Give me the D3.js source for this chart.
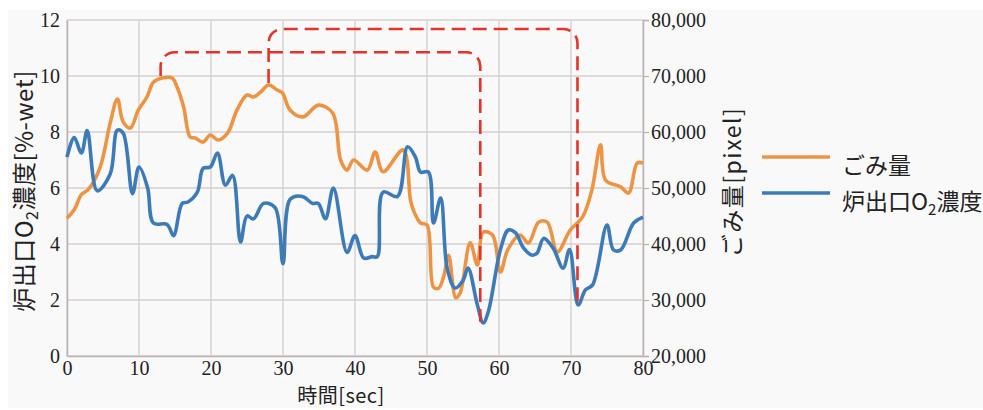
<!DOCTYPE html>
<html>
<head>
<meta charset="utf-8">
<script src="https://cdn.jsdelivr.net/npm/d3@7"></script>
<style>
  body { margin: 0; background: #fff; }
  svg { display: block; }
</style>
</head>
<body>
<div id="chart"></div>
<script>
const width = 983, height = 410;

// 炉出口O2濃度 [%-wet] (left axis)
const timeO2 = [0, 1.0, 2.0, 2.8, 4.2, 6.0, 7.0, 7.8, 9.1, 10.0, 11.2, 12.0, 13.9, 14.8, 16.0, 16.8, 18.1, 18.9, 19.9, 20.9,
  22.0, 23.0, 24.1, 25.0, 25.9, 27.3, 28.9, 30.0, 31.0, 32.7, 34.1, 34.9, 35.9, 37.0, 38.9, 40.0, 41.2, 42.4, 43.1, 43.9,
  45.9, 47.3, 48.4, 49.1, 50.2, 50.9, 51.9, 52.8, 53.9, 55.0, 55.7, 57.0, 57.8, 58.5, 60.2, 61.3, 62.3, 63.4, 64.6, 65.3,
  66.2, 67.5, 68.9, 69.8, 71.0, 72.0, 73.0, 75.0, 75.9, 76.9, 78.7, 80.0];
const o2 = [7.1, 7.8, 7.25, 8.05, 5.9, 6.5, 8.07, 7.96, 5.8, 6.75, 6.0, 4.75, 4.7, 4.3, 5.45, 5.5, 5.85, 6.7, 6.75, 7.25,
  6.1, 6.45, 4.07, 5.0, 4.9, 5.45, 5.3, 3.3, 5.6, 5.7, 5.45, 5.45, 4.9, 6.0, 3.7, 4.3, 3.5, 3.55, 3.55, 5.85,
  5.7, 7.47, 7.1, 6.57, 6.57, 4.75, 5.64, 3.14, 2.43, 2.7, 3.14, 1.82, 1.18, 1.57, 3.8, 4.5, 4.4, 3.86, 3.6, 3.68,
  4.2, 3.86, 3.14, 3.8, 1.82, 2.36, 2.54, 4.68, 3.79, 3.79, 4.75, 4.96];

// ごみ量 [pixel] (right axis)
const timeWaste = [0, 1.0, 2.0, 3.0, 4.6, 6.0, 7.0, 7.8, 8.8, 9.9, 11.1, 12.0, 13.2, 14.6, 15.3, 16.2, 17.1, 17.8, 18.9, 19.9,
  21.0, 22.3, 23.6, 25.0, 25.9, 26.9, 28.0, 29.2, 29.9, 31.0, 32.8, 34.9, 36.9, 38.0, 38.9, 39.8, 41.7, 42.8, 43.9, 46.7,
  47.7, 48.1, 49.1, 50.0, 50.9, 51.6, 52.3, 53.0, 54.0, 54.6, 56.0, 57.0, 57.8, 59.1, 60.2, 61.2, 62.9, 64.1, 65.5, 66.7,
  68.1, 69.9, 71.6, 72.9, 74.1, 74.8, 76.9, 78.0, 79.2, 80.0];
const waste = [44600, 46100, 48800, 49800, 53700, 61600, 65900, 61800, 60700, 63900, 66250, 68900, 69640, 69640, 68000, 64460, 59100, 58930, 58200, 59460,
  58570, 59800, 63900, 66600, 66250, 67140, 68400, 67500, 67000, 63900, 62700, 64800, 63400, 55000, 53200, 55000, 53200, 56400, 52900, 56800,
  47860, 46070, 43750, 43400, 32300, 32100, 34100, 38000, 30400, 31250, 40200, 36250, 42100, 41600, 35000, 38900, 41600, 40200, 43900, 43900,
  38600, 42500, 44800, 49640, 57700, 51400, 50200, 49100, 54460, 54460];

const xTicks = [0, 10, 20, 30, 40, 50, 60, 70, 80];
const leftTicks = [0, 2, 4, 6, 8, 10, 12];
const rightTicks = [20000, 30000, 40000, 50000, 60000, 70000, 80000];

// red dashed links: from ごみ量 peak (t0, y0) up to level, across, down to O2 dip (t1, y1) -- left-axis units
const linkStart = [[13.0, 10.0], [28.0, 9.75]];
const linkLevel = [10.85, 11.68];
const linkEnd = [[57.4, 1.22], [70.9, 1.82]];

const seriesNames = ["ごみ量", "炉出口O"];
const colors = { waste: "#ED9444", o2: "#3D7AB8", link: "#E5322A", grid: "#D6CECE", axis: "#BDB3B3" };
const serif = "'Liberation Serif', 'Times New Roman', Times, Tinos, 'Noto Serif', 'DejaVu Serif', serif";

const svg = d3.select("#chart").append("svg")
  .attr("width", width)
  .attr("height", height);

svg.append("rect")
  .attr("x", 8).attr("y", 10)
  .attr("width", width - 8).attr("height", 398)
  .attr("fill", "#F9F9F9");

const x = d3.scaleLinear().domain([0, 80]).range([67, 643]);
const yL = d3.scaleLinear().domain([0, 12]).range([356, 20]);
const yR = d3.scaleLinear().domain([20000, 80000]).range([356, 20]);

// grid
svg.append("g").selectAll("line").data(leftTicks).join("line")
  .attr("x1", x(0)).attr("x2", x(80))
  .attr("y1", d => yL(d)).attr("y2", d => yL(d))
  .attr("stroke", colors.grid).attr("stroke-width", 1.3);
svg.append("g").selectAll("line").data(xTicks).join("line")
  .attr("x1", d => x(d)).attr("x2", d => x(d))
  .attr("y1", yL(0)).attr("y2", yL(12))
  .attr("stroke", colors.grid).attr("stroke-width", 1.3);

// axes
const axisStyle = g => {
  g.attr("font-family", serif).attr("font-size", 20);
  g.select(".domain").attr("stroke", colors.axis).attr("stroke-width", 1.5);
  g.selectAll(".tick line").attr("stroke", colors.axis).attr("stroke-width", 1.3);
  g.selectAll(".tick text").attr("fill", "#222");
};

svg.append("g")
  .attr("transform", `translate(${x(0)},0)`)
  .call(d3.axisLeft(yL).tickValues(leftTicks).tickSize(0).tickPadding(7))
  .call(axisStyle);

svg.append("g")
  .attr("transform", `translate(0,${yL(0)})`)
  .call(d3.axisBottom(x).tickValues(xTicks).tickSize(0).tickPadding(5))
  .call(axisStyle);

svg.append("g")
  .attr("transform", `translate(${x(80)},0)`)
  .call(d3.axisRight(yR).tickValues(rightTicks).tickSize(6).tickPadding(2).tickFormat(d3.format(",")))
  .call(axisStyle);

// series
const line = d3.line().curve(d3.curveCatmullRom.alpha(0.5));

svg.append("path")
  .datum(timeWaste.map((t, i) => [x(t), yR(waste[i])]))
  .attr("d", line)
  .attr("fill", "none")
  .attr("stroke", colors.waste)
  .attr("stroke-width", 3.6)
  .attr("stroke-linejoin", "round");

svg.append("path")
  .datum(timeO2.map((t, i) => [x(t), yL(o2[i])]))
  .attr("d", line)
  .attr("fill", "none")
  .attr("stroke", colors.o2)
  .attr("stroke-width", 3.6)
  .attr("stroke-linejoin", "round");

// dashed links
linkStart.forEach((s, i) => {
  const x0 = x(s[0]), y0 = yL(s[1]);
  const yt = yL(linkLevel[i]);
  const x1 = x(linkEnd[i][0]), y1 = yL(linkEnd[i][1]);
  const r = 14;
  const p = d3.path();
  p.moveTo(x0, y0);
  p.lineTo(x0, yt + r);
  p.arcTo(x0, yt, x0 + r, yt, r);
  p.lineTo(x1 - r, yt);
  p.arcTo(x1, yt, x1, yt + r, r);
  p.lineTo(x1, y1);
  svg.append("path")
    .attr("d", p.toString())
    .attr("fill", "none")
    .attr("stroke", colors.link)
    .attr("stroke-width", 2.6)
    .attr("stroke-dasharray", "14,7");
});

// axis titles
const titleFont = "'Noto Sans CJK JP', 'Noto Sans', sans-serif";

const lt = svg.append("text")
  .attr("transform", `translate(33,${yL(6) + 3}) rotate(-90)`)
  .attr("text-anchor", "middle")
  .attr("font-family", titleFont)
  .attr("font-size", 24)
  .attr("letter-spacing", 0.5)
  .attr("fill", "#222");
lt.append("tspan").text("炉出口O");
lt.append("tspan").attr("font-size", 16).attr("dy", 5).text("2");
lt.append("tspan").attr("dy", -5).text("濃度[%-wet]");

svg.append("text")
  .attr("transform", `translate(741,182) rotate(-90)`)
  .attr("text-anchor", "middle")
  .attr("font-family", titleFont)
  .attr("font-size", 23)
  .attr("letter-spacing", 1.5)
  .attr("fill", "#222")
  .text("ごみ量[pixel]");

svg.append("text")
  .attr("x", 341).attr("y", 403)
  .attr("text-anchor", "middle")
  .attr("font-family", titleFont)
  .attr("font-size", 20)
  .attr("letter-spacing", 0.5)
  .attr("fill", "#222")
  .text("時間[sec]");

// legend
const legend = svg.append("g").attr("transform", "translate(762,157)");
[colors.waste, colors.o2].forEach((c, i) => {
  legend.append("line")
    .attr("x1", 0).attr("x2", 68)
    .attr("y1", i * 36).attr("y2", i * 36)
    .attr("stroke", c).attr("stroke-width", 3.4);
  const t = legend.append("text")
    .attr("x", 80).attr("y", i * 36 + 17)
    .attr("font-family", titleFont)
    .attr("font-size", 23)
    .attr("fill", "#222");
  t.append("tspan").text(seriesNames[i]);
  if (i === 1) {
    t.append("tspan").attr("font-size", 15).attr("dy", 5).text("2");
    t.append("tspan").attr("dy", -5).text("濃度");
  }
});
</script>
</body>
</html>
